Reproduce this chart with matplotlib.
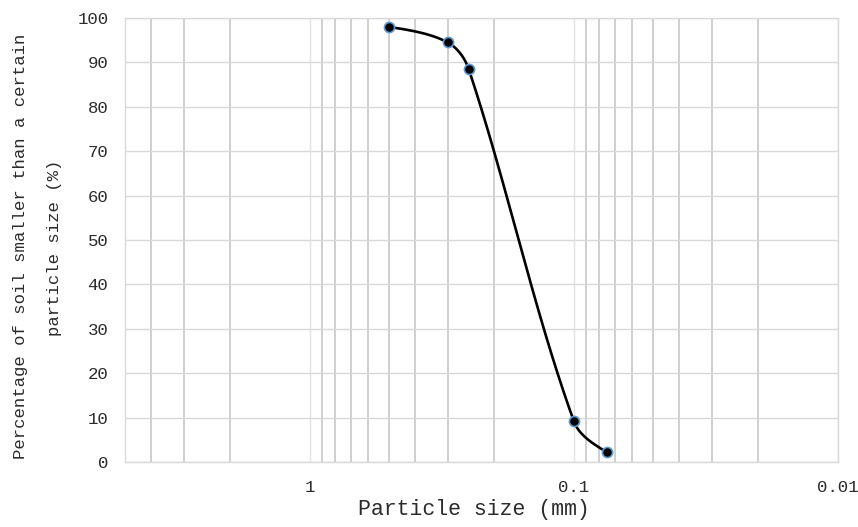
import numpy as np
import matplotlib
matplotlib.use("Agg")
import matplotlib.pyplot as plt
from matplotlib.ticker import FixedLocator, NullFormatter, FixedFormatter, LogLocator

# ---- data ----
size_mm = [0.5, 0.3, 0.25, 0.1, 0.075]
percent_finer = [98.0, 94.5, 88.5, 9.2, 2.2]
x_tick_values = [1, 0.1, 0.01]
x_tick_labels = ["1", "0.1", "0.01"]
y_ticks = list(range(0, 101, 10))
x_label = "Particle size (mm)"
y_label_1 = "Percentage of soil smaller than a certain"
y_label_2 = "particle size (%)"

FONT = ["Liberation Mono", "DejaVu Sans Mono"]
TXT = "#2b2b2b"

W, H = 858, 527
AX_L, AX_R, AX_T, AX_B = 125, 838, 18, 462
XLIM = (5, 0.01)
YLIM = (0, 100)


def smooth(xs, ys, n=80):
    """Smoothed line (Bezier with length-scaled tangents) built in pixel space."""
    lx0, lx1 = np.log10(XLIM[0]), np.log10(XLIM[1])
    wpx, hpx = AX_R - AX_L, AX_B - AX_T
    u = (np.log10(xs) - lx0) / (lx1 - lx0) * wpx
    v = (np.asarray(ys, float) - YLIM[0]) / (YLIM[1] - YLIM[0]) * hpx
    P = np.column_stack([u, v])
    m = len(P)
    cin = [None] * m
    cout = [None] * m
    k = 1.0 / 3.0
    for i in range(1, m - 1):
        d = P[i + 1] - P[i - 1]
        l1 = np.linalg.norm(P[i] - P[i - 1])
        l2 = np.linalg.norm(P[i + 1] - P[i])
        cin[i] = P[i] - d * (l1 / (l1 + l2)) * k
        cout[i] = P[i] + d * (l2 / (l1 + l2)) * k
    cout[0] = P[0] + (cin[1] - P[0]) * 0.5
    cin[m - 1] = P[m - 1] + (cout[m - 2] - P[m - 1]) * 0.5
    out = []
    t = np.linspace(0, 1, n)[:, None]
    for i in range(m - 1):
        p1, c1, c2, p2 = P[i], cout[i], cin[i + 1], P[i + 1]
        seg = ((1 - t) ** 3) * p1 + 3 * ((1 - t) ** 2) * t * c1 + 3 * (1 - t) * t ** 2 * c2 + t ** 3 * p2
        out.append(seg if i == 0 else seg[1:])
    out = np.vstack(out)
    xs_s = 10 ** (out[:, 0] / wpx * (lx1 - lx0) + lx0)
    ys_s = out[:, 1] / hpx * (YLIM[1] - YLIM[0]) + YLIM[0]
    return xs_s, ys_s


fig = plt.figure(figsize=(W / 100, H / 100), dpi=100)
ax = fig.add_axes([AX_L / W, (H - AX_B) / H, (AX_R - AX_L) / W, (AX_B - AX_T) / H])

ax.set_xscale("log")
ax.set_xlim(*XLIM)
ax.set_ylim(*YLIM)

ax.xaxis.set_major_locator(FixedLocator(x_tick_values))
ax.xaxis.set_major_formatter(FixedFormatter(x_tick_labels))
ax.xaxis.set_minor_locator(LogLocator(base=10, subs=range(2, 10), numticks=20))
ax.xaxis.set_minor_formatter(NullFormatter())
ax.set_yticks(y_ticks)

ax.grid(which="major", axis="x", color="#e3e3e3", linewidth=1.0)
ax.grid(which="minor", axis="x", color="#c2c2c2", linewidth=1.1)
ax.grid(which="major", axis="y", color="#d9d9d9", linewidth=1.0)
ax.set_axisbelow(True)

for s in ax.spines.values():
    s.set_color("#d9d9d9")
    s.set_linewidth(1.0)

ax.tick_params(which="both", length=0)
ax.tick_params(axis="y", pad=12, labelsize=12.5, labelcolor=TXT)
ax.tick_params(axis="x", pad=13, labelsize=12.5, labelcolor=TXT)
for lab in ax.get_xticklabels() + ax.get_yticklabels():
    lab.set_fontfamily(FONT)

sx, sy = smooth(size_mm, percent_finer)
ax.plot(sx, sy, color="black", linewidth=1.9, solid_capstyle="round", zorder=3)
ax.plot(size_mm, percent_finer, linestyle="none", marker="o", markersize=7.3,
        markerfacecolor="black", markeredgecolor="#5b9bd5", markeredgewidth=1.2, zorder=4)

fig.text(474 / W, 1 - 510 / H, x_label, ha="center", va="center",
         fontsize=15.5, family=FONT, color=TXT)
fig.text(21 / W, 1 - 246 / H, y_label_1, ha="center", va="center", rotation=90,
         fontsize=12.4, family=FONT, color=TXT)
fig.text(54 / W, 1 - 248 / H, y_label_2, ha="center", va="center", rotation=90,
         fontsize=12.4, family=FONT, color=TXT)

fig.savefig("out.png", dpi=100)
